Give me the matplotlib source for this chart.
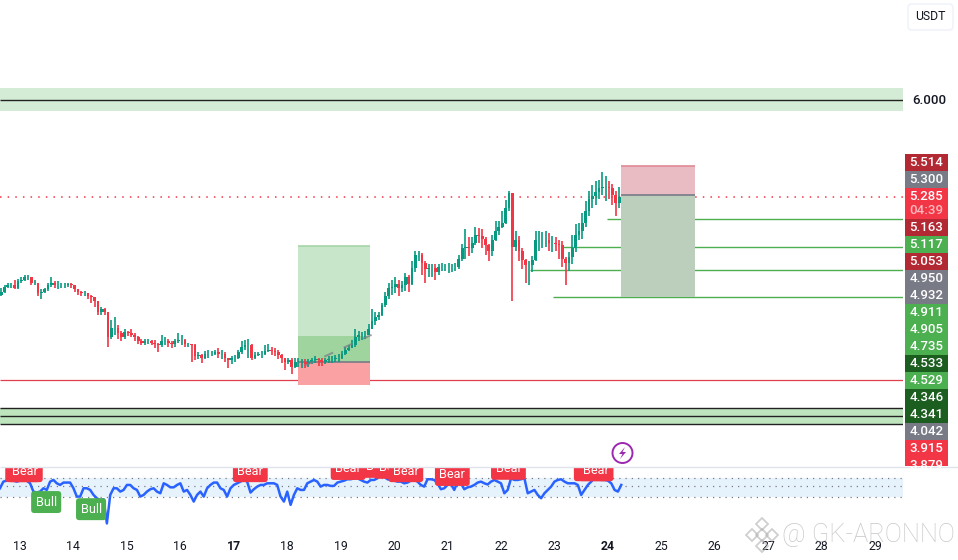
import matplotlib
matplotlib.use('Agg')
import matplotlib.pyplot as plt
from matplotlib.patches import FancyBboxPatch, Rectangle, Circle, Polygon

plt.rcParams['font.family'] = ['Roboto', 'DejaVu Sans']

UP = '#089981'
DOWN = '#F23645'
LINE_GREEN = '#4CAF50'

# candles, 16 per day
start_day = 12.586
closes = [
    4.55, 4.57, 4.61, 4.62, 4.62, 4.60, 4.65, 4.66, 4.68, 4.68,
    4.64, 4.64, 4.56, 4.57, 4.59, 4.62, 4.64, 4.62, 4.62, 4.62,
    4.62, 4.63, 4.62, 4.59, 4.57, 4.56, 4.56, 4.54, 4.53, 4.50,
    4.42, 4.44, 4.42, 4.23, 4.30, 4.30, 4.26, 4.23, 4.27, 4.26,
    4.25, 4.23, 4.20, 4.19, 4.20, 4.20, 4.19, 4.18, 4.17, 4.20,
    4.20, 4.19, 4.18, 4.20, 4.21, 4.21, 4.18, 4.18, 4.17, 4.09,
    4.10, 4.08, 4.11, 4.11, 4.11, 4.12, 4.11, 4.11, 4.08, 4.06,
    4.08, 4.08, 4.12, 4.16, 4.17, 4.17, 4.08, 4.10, 4.11, 4.11,
    4.13, 4.14, 4.13, 4.12, 4.10, 4.08, 4.05, 4.06, 4.01, 4.05,
    4.05, 4.05, 4.03, 4.05, 4.06, 4.07, 4.06, 4.05, 4.06, 4.07,
    4.07, 4.08, 4.08, 4.11, 4.14, 4.15, 4.17, 4.23, 4.25, 4.25,
    4.25, 4.29, 4.35, 4.38, 4.40, 4.47, 4.54, 4.60, 4.61, 4.63,
    4.60, 4.62, 4.68, 4.63, 4.75, 4.85, 4.85, 4.79, 4.74, 4.75,
    4.75, 4.72, 4.76, 4.76, 4.76, 4.76, 4.76, 4.76, 4.82, 4.90,
    4.91, 4.90, 4.94, 5.00, 4.99, 4.97, 4.92, 4.88, 4.96, 5.03,
    5.06, 5.09, 5.20, 5.31, 4.91, 4.96, 4.88, 4.81, 4.77, 4.77,
    4.81, 4.96, 4.96, 4.96, 4.96, 4.94, 4.94, 4.93, 4.92, 4.82,
    4.79, 4.83, 4.90, 5.00, 5.03, 5.09, 5.18, 5.27, 5.29, 5.32,
    5.35, 5.36, 5.36, 5.35, 5.30, 5.24, 5.285,
]
highs = [
    4.56, 4.60, 4.62, 4.64, 4.64, 4.66, 4.67, 4.68, 4.70, 4.70,
    4.68, 4.66, 4.64, 4.59, 4.60, 4.64, 4.68, 4.65, 4.65, 4.64,
    4.64, 4.64, 4.64, 4.62, 4.59, 4.58, 4.58, 4.56, 4.55, 4.53,
    4.50, 4.46, 4.45, 4.42, 4.36, 4.38, 4.32, 4.28, 4.29, 4.28,
    4.29, 4.26, 4.24, 4.22, 4.22, 4.22, 4.21, 4.21, 4.19, 4.25,
    4.23, 4.22, 4.20, 4.22, 4.26, 4.25, 4.22, 4.19, 4.18, 4.18,
    4.12, 4.11, 4.13, 4.14, 4.13, 4.14, 4.15, 4.14, 4.12, 4.08,
    4.09, 4.10, 4.14, 4.20, 4.21, 4.22, 4.18, 4.12, 4.12, 4.13,
    4.17, 4.18, 4.16, 4.15, 4.14, 4.11, 4.08, 4.08, 4.08, 4.08,
    4.08, 4.07, 4.07, 4.07, 4.08, 4.09, 4.08, 4.08, 4.08, 4.09,
    4.09, 4.10, 4.11, 4.13, 4.16, 4.17, 4.21, 4.29, 4.28, 4.27,
    4.28, 4.33, 4.44, 4.42, 4.42, 4.49, 4.57, 4.64, 4.66, 4.68,
    4.66, 4.65, 4.71, 4.70, 4.80, 4.88, 4.88, 4.86, 4.80, 4.78,
    4.78, 4.78, 4.78, 4.79, 4.78, 4.79, 4.78, 4.79, 4.85, 4.93,
    5.04, 4.98, 4.98, 5.06, 5.05, 5.04, 4.98, 4.93, 5.00, 5.10,
    5.10, 5.18, 5.26, 5.33, 5.31, 5.03, 4.99, 4.90, 4.82, 4.80,
    4.84, 5.03, 5.03, 5.02, 5.03, 5.01, 4.99, 4.98, 4.96, 4.95,
    4.83, 4.87, 5.00, 5.08, 5.09, 5.16, 5.25, 5.33, 5.37, 5.40,
    5.41, 5.47, 5.44, 5.40, 5.38, 5.33, 5.36,
]
lows = [
    4.52, 4.54, 4.56, 4.60, 4.60, 4.59, 4.59, 4.64, 4.65, 4.66,
    4.62, 4.62, 4.54, 4.52, 4.56, 4.58, 4.61, 4.60, 4.59, 4.60,
    4.60, 4.61, 4.60, 4.57, 4.55, 4.54, 4.54, 4.52, 4.49, 4.46,
    4.40, 4.40, 4.40, 4.16, 4.22, 4.25, 4.22, 4.20, 4.22, 4.24,
    4.23, 4.20, 4.18, 4.17, 4.17, 4.18, 4.17, 4.15, 4.12, 4.16,
    4.17, 4.16, 4.15, 4.16, 4.19, 4.17, 4.16, 4.16, 4.05, 4.06,
    4.07, 4.04, 4.07, 4.08, 4.09, 4.10, 4.08, 4.07, 4.05, 4.00,
    4.03, 4.05, 4.07, 4.11, 4.14, 4.08, 4.06, 4.07, 4.09, 4.08,
    4.10, 4.12, 4.10, 4.09, 4.07, 4.04, 3.99, 4.03, 3.96, 4.00,
    4.01, 4.00, 4.00, 4.01, 4.03, 4.04, 4.02, 4.02, 4.03, 4.04,
    4.04, 4.05, 4.05, 4.07, 4.10, 4.13, 4.15, 4.16, 4.20, 4.21,
    4.22, 4.25, 4.30, 4.32, 4.36, 4.39, 4.46, 4.52, 4.55, 4.56,
    4.54, 4.57, 4.58, 4.57, 4.62, 4.72, 4.80, 4.70, 4.64, 4.68,
    4.68, 4.66, 4.70, 4.73, 4.73, 4.71, 4.72, 4.73, 4.74, 4.80,
    4.82, 4.84, 4.86, 4.92, 4.94, 4.90, 4.85, 4.80, 4.84, 4.95,
    5.00, 5.05, 5.08, 5.18, 4.50, 4.88, 4.80, 4.74, 4.64, 4.62,
    4.72, 4.80, 4.88, 4.90, 4.91, 4.88, 4.87, 4.88, 4.82, 4.76,
    4.62, 4.73, 4.78, 4.87, 4.96, 4.97, 5.06, 5.14, 5.20, 5.22,
    5.27, 5.30, 5.25, 5.27, 5.22, 5.14, 5.20,
]

# oscillator, 16 per day
osc_start_day = 12.626
osc_values = [
    49, 63, 65, 66.5, 65, 63, 65, 65, 65, 59.5,
    42, 40, 42, 49, 45.5, 63, 66.5, 59.5, 56, 61,
    61, 61, 49, 31.5, 31.5, 49, 49, 45.5, 35, 28,
    24, 26, -25, 35, 49, 49, 42, 45.5, 56, 56,
    49, 45.5, 31.5, 35, 42, 47, 49, 42, 38.5, 59.5,
    56, 51, 51, 56, 59.5, 42, 45.5, 35, 21, 35,
    42, 31.5, 49, 56, 61, 61, 49, 45.5, 31.5, 49,
    56, 59.5, 63, 66.5, 63, 40, 47, 52.5, 56, 56,
    59.5, 59.5, 59.5, 56, 31.5, 21, 42, 14, 35, 49,
    45.5, 45.5, 59.5, 63, 66.5, 63, 52.5, 56, 56, 54,
    54, 61, 63, 65, 68, 68, 70, 70, 66.5, 63,
    61, 66.5, 66.5, 70, 77, 73.5, 68, 66.5, 65, 63,
    63, 59.5, 61, 65, 66.5, 63, 56, 52.5, 68, 68,
    66.5, 59.5, 47, 49, 56, 58, 45.5, 63, 59.5, 47,
    51, 52.5, 56, 61, 63, 59.5, 57, 63, 66.5, 63,
    59.5, 38.5, 45.5, 70, 66.5, 66.5, 68, 70, 38.5, 42,
    45.5, 35, 28, 38.5, 45.5, 52.5, 63, 66.5, 68, 63,
    59.5, 59.5, 59.5, 56, 35, 45.5, 56, 63, 70, 68,
    66.5, 66.5, 65, 59.5, 45.5, 42, 56,
]
osc_levels = [70, 54, 30]

# signal tags on the oscillator
tag_days = [13.05, 13.1, 13.49, 14.33, 17.31, 19.14, 19.72, 19.96, 20.22, 21.09, 22.14, 23.69, 23.78]
tag_values = [85, 85, 20, 5, 85, 89.6, 94, 92, 85, 77, 90, 87, 87]
tag_names = ['Bear', 'Bear', 'Bull', 'Bull', 'Bear', 'Bear', 'Bear', 'Bear', 'Bear', 'Bear', 'Bear', 'Bear', 'Bear']

# horizontal levels and zones
day_ticks = list(range(13, 30))
bold_days = [17, 24]
band_top = (6.097, 5.925)
band_bottom = (3.702, 3.585)
black_levels = [6.01, 3.702, 3.645, 3.585]
last_price = 5.285
stop_level = 3.915
target_levels = [5.117, 4.905, 4.735, 4.533]
target_starts = [23.98, 23.16, 22.54, 22.97]

long_days = (18.20, 19.55)
long_prices = (4.915, 4.046, 3.875, 4.24)
short_days = (24.246, 25.63)
short_prices = (5.514, 5.30, 4.533)
trail_days = [18.33, 19.58]
trail_prices = [4.02, 4.25]

# price scale tags, top to bottom
scale_tags = ['5.514', '5.300', '5.285', '5.163', '5.117', '5.053', '4.950', '4.932',
              '4.911', '4.905', '4.735', '4.533', '4.529', '4.346', '4.341', '4.042', '3.915', '3.879']
scale_colors = ['#B22833', '#787B86', '#F23645', '#B22833', '#4CAF50', '#B22833', '#787B86', '#787B86',
                '#4CAF50', '#4CAF50', '#4CAF50', '#1B5E20', '#4CAF50', '#1B5E20', '#1B5E20', '#787B86',
                '#F23645', '#F23645']
countdown = '04:39'

fig = plt.figure(figsize=(9.58, 5.6), dpi=100)
W, H = 958.0, 560.0


def add_pane(left, top, right, bottom, **kw):
    return fig.add_axes([left / W, 1 - bottom / H, (right - left) / W, (bottom - top) / H], **kw)


ax = add_pane(0, 0, 903, 466)
ax.set_xlim(12.626, 29.523)
ax.set_ylim(3.268, 6.756)
ax.axis('off')

# zones
ax.axhspan(band_top[1], band_top[0], color='#D4ECD5', lw=0, zorder=1)
ax.axhspan(band_bottom[1], band_bottom[0], color='#BFE5BF', lw=0, zorder=1)
ax.hlines(black_levels, 12.626, 29.523, color='#222222', lw=1.0, zorder=2)
ax.hlines(stop_level, 12.626, 29.523, color='#E0404E', lw=0.9, zorder=2)
ax.hlines(last_price, 12.626, 29.523, color=DOWN, lw=1.1, linestyles=(0, (1, 4)), zorder=2)
ax.hlines(target_levels, target_starts, 29.523, color=LINE_GREEN, lw=1.0, zorder=2)

# long position box
ax.fill_between(long_days, long_prices[1], long_prices[0], color='#C8E6C9', lw=0, zorder=3)
ax.fill_between(long_days, long_prices[2], long_prices[1], color='#FAA1A4', lw=0, zorder=3)
ax.fill_between(long_days, long_prices[1], long_prices[3], color='#9FD49F', lw=0, zorder=3)
ax.hlines(long_prices[0], *long_days, color='#A5D6A7', lw=1.2, zorder=3)
ax.hlines(long_prices[1], *long_days, color='#787B86', lw=1.2, zorder=3)

# short position box
ax.fill_between(short_days, short_prices[1], short_prices[0], color='#E8BCC2', lw=0, zorder=3)
ax.fill_between(short_days, short_prices[2], short_prices[1], color='#BBCFBC', lw=0, zorder=3)
ax.hlines(short_prices[0], *short_days, color='#E08A94', lw=1.2, zorder=3)
ax.hlines(short_prices[1], *short_days, color='#787B86', lw=1.2, zorder=3)

# candles
days = [start_day + i / 16 for i in range(len(closes))]
opens = [closes[0]] + closes[:-1]
colors = [UP if c >= o else DOWN for o, c in zip(opens, closes)]
ax.vlines(days, lows, highs, colors=colors, lw=1.2, zorder=4)
ax.bar(days, [abs(c - o) for o, c in zip(opens, closes)], bottom=[min(o, c) for o, c in zip(opens, closes)],
       width=0.052, color=colors, lw=0, zorder=5)
ax.plot(trail_days, trail_prices, color='#787B86', lw=1.4, ls=(0, (5, 6)), alpha=0.7, zorder=6)

# oscillator pane
osc = add_pane(0, 467, 903, 530)
osc.set_xlim(12.626, 29.523)
# 0.475 px per unit, 70 sits at y=478.3
osc.set_ylim(70 - (530 - 478.3) / 0.475, 70 + (478.3 - 467) / 0.475)
for s in osc.spines.values():
    s.set_visible(False)
osc.axhspan(osc_levels[2], osc_levels[0], color='#E6F3FD', lw=0, zorder=1)
osc.hlines(osc_levels, 12.626, 29.523, color='#787B86', lw=0.9, linestyles=(0, (1, 4)), zorder=2)
osc_days = [osc_start_day + i / 16 for i in range(len(osc_values))]
osc.plot(osc_days, osc_values, color='#2962FF', lw=1.8, zorder=3, solid_joinstyle='round')
for d, v, name in zip(tag_days, tag_values, tag_names):
    fc = DOWN if name == 'Bear' else LINE_GREEN
    osc.text(d, v, name, color='white', fontsize=9.2, ha='center', va='center', clip_on=True, zorder=4,
             bbox=dict(boxstyle='round,pad=0.35,rounding_size=0.25', fc=fc, ec='none'))
osc.set_yticks([])
osc.set_xticks(day_ticks)
osc.tick_params(axis='x', length=0, pad=7, labelsize=8.8, labelcolor='#131722')
for lab, d in zip(osc.get_xticklabels(), day_ticks):
    if d in bold_days:
        lab.set_fontweight('bold')

# chrome drawn in pixel space: price scale, buttons, watermark
over = fig.add_axes([0, 0, 1, 1], facecolor='none', zorder=10)
over.set_xlim(0, W)
over.set_ylim(H, 0)
over.axis('off')
over.hlines(466.5, 0, W, color='#E0E3EB', lw=1.0)

y = 154.0
for tag, col in zip(scale_tags, scale_colors):
    h = 31.0 if tag == '5.285' else 17.0
    clip_h = min(h, 466 - y)
    over.add_patch(Rectangle((905, y), 43, clip_h, fc=col, ec='none'))
    txt = over.text(926.5, y + 8.5, tag, color='white', fontsize=9.5, fontweight='medium',
                    ha='center', va='center')
    if tag == '5.285':
        over.text(926.5, y + 22.5, countdown, color='#FBB8BE', fontsize=9.5, fontweight='medium',
                  ha='center', va='center')
    txt.set_clip_path(Rectangle((905, 0), 43, 466, transform=over.transData))
    y += h

over.text(929, 100.5, '6.000', color='#131722', fontsize=9.5, fontweight='medium', ha='center', va='center')
over.add_patch(FancyBboxPatch((908, 4), 45, 26, boxstyle='round,pad=0,rounding_size=4',
                              fc='white', ec='#F0F3FA', lw=1.2))
over.text(930.5, 17, 'USDT', color='#131722', fontsize=8.8, ha='center', va='center')

# lightning icon
over.add_patch(Circle((622.5, 453), 10, fc='white', ec='#9C27B0', lw=1.4))
over.add_patch(Polygon([(625, 447), (619, 454), (622.5, 454), (620, 459), (626, 452), (622.5, 452)],
                       closed=True, fc='#9C27B0', ec='none'))

# watermark
over.text(782, 535, '@ GK-ARONNO', color='#9A9A9A', alpha=0.55, fontsize=18.4, fontweight='light',
          ha='left', va='center')
for px, py in [(762, 524), (752, 535), (772, 535), (762, 546), (762, 535)]:
    over.plot(px, py, marker='D', ms=6.5, mfc='none', mec='#B0B0B0', mew=1.3, alpha=0.6)

fig.savefig('out.png', dpi=100)
